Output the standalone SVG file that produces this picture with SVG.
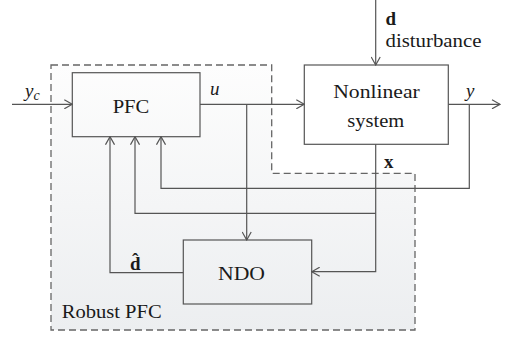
<svg xmlns="http://www.w3.org/2000/svg" width="506" height="339" viewBox="0 0 506 339">
  <defs>
    <linearGradient id="regionFill" x1="0" y1="0" x2="0" y2="1">
      <stop offset="0" stop-color="#fdfdfd"/>
      <stop offset="1" stop-color="#eceef0"/>
    </linearGradient>
    <marker id="arrow" viewBox="0 0 10 10" refX="9" refY="5" markerWidth="10" markerHeight="10" markerUnits="userSpaceOnUse" orient="auto">
      <path d="M1,0.5 L9,5 L1,9.5" fill="none" stroke="#555" stroke-width="1.2"/>
    </marker>
    <style>
      .box { fill: none; stroke: #555; stroke-width: 1.2; }
      .wire { fill: none; stroke: #555; stroke-width: 1.2; }
      .arr { marker-end: url(#arrow); }
      .region { fill: url(#regionFill); stroke: #666; stroke-width: 1.3; stroke-dasharray: 7 4; }
      text { font-family: "Liberation Serif", "Times New Roman", serif; fill: #1a1a1a; }
      .lbl { font-size: 19px; }
      .mid { text-anchor: middle; }
      .it { font-style: italic; }
      .bf { font-weight: bold; }
    </style>
  </defs>

  <rect width="506" height="339" fill="#ffffff"/>

  <!-- Robust PFC region (dashed) -->
  <g id="robust-pfc">
    <path class="region" d="M51,65 H271.7 V173.3 H415 V330 H51 Z"/>
    <text class="lbl" x="61.7" y="318" textLength="100" lengthAdjust="spacingAndGlyphs">Robust PFC</text>
  </g>

  <!-- connectors -->
  <g id="connectors">
    <path class="wire arr" d="M12,104.3 H72.3"/>
    <path class="wire arr" d="M200,104.3 H304.3"/>
    <path class="wire arr" d="M448.3,104.3 H500"/>
    <path class="wire arr" d="M375.7,0 V65"/>
    <path class="wire arr" d="M246.7,104.3 V240"/>
    <path class="wire arr" d="M375.7,144.3 V271.7 H311.7"/>
    <path class="wire arr" d="M375.7,213.3 H135 V136.7"/>
    <path class="wire arr" d="M469.3,104.3 V188.3 H161 V136.7"/>
    <path class="wire arr" d="M183.3,272.7 H110 V136.7"/>

    <text class="lbl it" x="25" y="97">y<tspan font-size="14" dy="3">c</tspan></text>
    <text class="lbl it" x="210" y="95">u</text>
    <text class="lbl it" x="466" y="97">y</text>
    <text class="lbl bf" x="385.5" y="25">d</text>
    <text class="lbl" x="385.5" y="46.7" textLength="96" lengthAdjust="spacingAndGlyphs">disturbance</text>
    <text class="lbl bf" x="384" y="168">x</text>
    <text class="lbl bf" x="130" y="270">d̂</text>
  </g>

  <g id="pfc">
    <rect class="box" x="72.3" y="72.7" width="127.7" height="64"/>
    <text class="lbl mid" x="131" y="113" textLength="36.7" lengthAdjust="spacingAndGlyphs">PFC</text>
  </g>

  <g id="nonlinear-system">
    <rect class="box" x="304.3" y="65" width="144" height="79.3"/>
    <text class="lbl mid" x="376.5" y="98.3" textLength="86.7" lengthAdjust="spacingAndGlyphs">Nonlinear</text>
    <text class="lbl mid" x="375.8" y="126.7" textLength="57" lengthAdjust="spacingAndGlyphs">system</text>
  </g>

  <g id="ndo">
    <rect class="box" x="183.3" y="240" width="128.4" height="64"/>
    <text class="lbl mid" x="241.5" y="280" textLength="47" lengthAdjust="spacingAndGlyphs">NDO</text>
  </g>
</svg>
